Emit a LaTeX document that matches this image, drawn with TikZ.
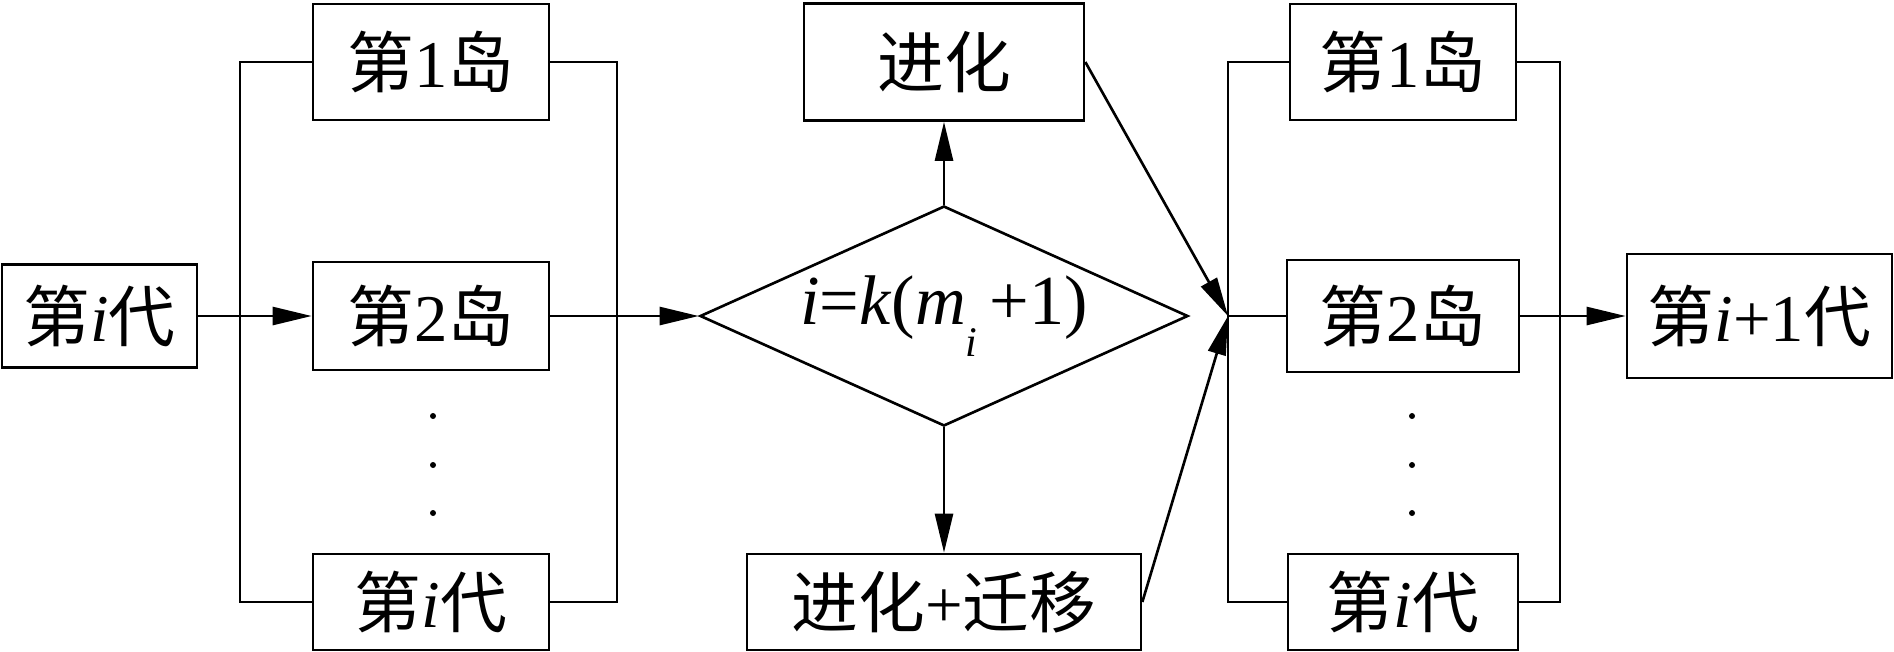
\documentclass[tikz,border=0pt]{standalone}
\usepackage{fontspec}
\setmainfont{Liberation Serif}
\newfontfamily\cjk{Noto Sans CJK SC}
\newcommand{\zh}[1]{{\cjk #1}}
\usetikzlibrary{shapes.geometric,arrows.meta}

\begin{document}
\begin{tikzpicture}[
    block/.style={draw, line width=0.75pt, inner sep=0pt,
                  font=\fontsize{19}{22}\selectfont},
    island/.style={block, minimum width=2.36cm, minimum height=1.16cm},
    decision/.style={draw, diamond, aspect=2.2, inner sep=0pt,
                     line width=0.75pt,
                     minimum width=4.88cm, minimum height=2.2cm,
                     font=\fontsize{20}{24}\selectfont},
    link/.style={line width=0.75pt},
    >={Triangle[length=3.9mm,width=1.8mm]}
]
\useasboundingbox (0,3.16) rectangle (18.94,-3.35);

% --- GENERATION i ---
\node[block, minimum width=1.95cm, minimum height=1.03cm] (gen) at (0.995,0)
    {\zh{第}\textit{i}\zh{代}};

% --- ISLANDS (before) ---
\node[island] (isl1) at (4.31,2.54) {\zh{第}1\zh{岛}};
\node[island, minimum height=1.08cm] (isl2) at (4.31,0) {\zh{第}2\zh{岛}};
\node[island, minimum height=0.96cm] (islk) at (4.31,-2.86) {\zh{第}\textit{i}\zh{代}};
\coordinate (lin) at (2.40,0);
\coordinate (lout) at (6.17,0);

% --- DECISION ---
\node[decision] (dec) at (9.44,0)
    {\textit{i}=\textit{k}(\textit{m}\raisebox{-0.45em}{\fontsize{12}{12}\selectfont\textit{i}}\,+1)};
\node[block, minimum width=2.80cm, minimum height=1.17cm] (evo) at (9.44,2.54)
    {\zh{进化}};
\node[block, minimum width=3.94cm, minimum height=0.96cm] (mig) at (9.44,-2.86)
    {\zh{进化}+\zh{迁移}};

% --- ISLANDS (after) ---
\coordinate (merge) at (12.28,0);
\coordinate (rout) at (15.60,0);
\node[island, minimum width=2.26cm] (risl1) at (14.03,2.54) {\zh{第}1\zh{岛}};
\node[island, minimum width=2.32cm, minimum height=1.12cm] (risl2) at (14.03,0) {\zh{第}2\zh{岛}};
\node[island, minimum width=2.30cm, minimum height=0.96cm] (rislk) at (14.03,-2.86) {\zh{第}\textit{i}\zh{代}};

% --- GENERATION i+1 ---
\node[block, minimum width=2.65cm, minimum height=1.24cm] (next) at (17.595,0)
    {\zh{第}\textit{i}+1\zh{代}};

% connectors
\draw[link,->] (gen) -- (isl2);
\draw[link] (isl1.west) -| (lin) |- (islk.west);
\draw[link] (isl1.east) -| (lout) |- (islk.east);
\draw[link,->] (isl2) -- (dec);
\draw[link,->] (dec) -- (evo);
\draw[link,->] (dec) -- (mig);
\draw[link,->] (evo.east) -- (merge);
\draw[link,->] (mig.east) -- (merge);
\draw[link] (risl1.west) -| (merge) |- (rislk.west);
\draw[link] (merge) -- (risl2);
\draw[link] (risl1.east) -| (rout) |- (rislk.east);
\draw[link,->] (risl2) -- (next);

% dots
\foreach \y in {-1.00,-1.49,-1.97} {
  \fill (4.33,\y) circle (0.03);
  \fill (14.12,\y) circle (0.03);
}

\end{tikzpicture}
\end{document}
